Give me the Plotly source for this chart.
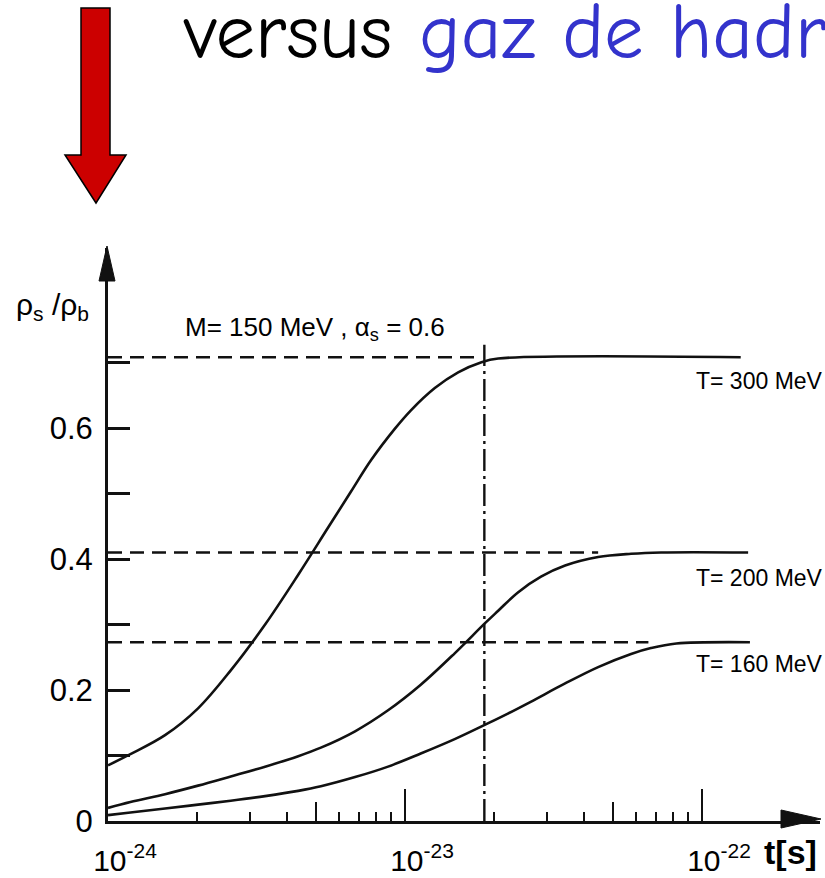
import plotly.graph_objects as go

# ---------------- data ----------------
t_300 = [1.0e-24, 1.19e-24, 1.556e-24, 2.01e-24, 2.59e-24, 3.38e-24, 4.37e-24, 5.51e-24,
         6.58e-24, 7.69e-24, 9.25e-24, 1.047e-23, 1.26e-23, 1.51e-23, 1.80e-23, 2.06e-23, 1.35e-22]
r_300 = [0.085, 0.102, 0.131, 0.172, 0.230, 0.300, 0.376, 0.448,
         0.503, 0.551, 0.599, 0.627, 0.661, 0.685, 0.700, 0.706, 0.708]

t_200 = [1.0e-24, 1.19e-24, 1.556e-24, 2.01e-24, 2.59e-24, 3.38e-24, 4.37e-24, 5.21e-24,
         6.79e-24, 8.77e-24, 1.13e-23, 1.47e-23, 1.86e-23, 2.06e-23, 2.40e-23, 2.87e-23,
         3.46e-23, 4.47e-23, 5.77e-23, 7.28e-23, 1.43e-22]
r_200 = [0.020, 0.029, 0.041, 0.054, 0.068, 0.083, 0.099, 0.112,
         0.137, 0.169, 0.208, 0.256, 0.302, 0.321, 0.349, 0.373,
         0.390, 0.403, 0.408, 0.410, 0.410]

t_160 = [1.0e-24, 1.19e-24, 1.556e-24, 2.01e-24, 2.59e-24, 3.38e-24, 4.37e-24, 5.21e-24,
         6.79e-24, 8.77e-24, 1.13e-23, 1.47e-23, 1.90e-23, 2.22e-23, 2.65e-23, 3.46e-23,
         4.47e-23, 5.77e-23, 6.73e-23, 8.2e-23, 1.45e-22]
r_160 = [0.009, 0.013, 0.019, 0.025, 0.031, 0.038, 0.046, 0.053,
         0.067, 0.083, 0.103, 0.125, 0.149, 0.164, 0.182, 0.210,
         0.235, 0.255, 0.264, 0.271, 0.273]

eq_values = [0.708, 0.410, 0.273]          # equilibrium ratios (dashed lines)
eq_ends = [1.80e-23, 4.47e-23, 6.6e-23]     # where each dashed line meets its curve
t_mark = 1.85e-23                           # vertical dashed marker
r_mark_top = 0.727

curve_labels = ["T= 300 MeV", "T= 200 MeV", "T= 160 MeV"]
y_tickvals = [0, 0.2, 0.4, 0.6]
y_ticktext = ["0", "0.2", "0.4", "0.6"]
y_minor = [0.1, 0.3, 0.5, 0.7]
x_tickvals = [1e-24, 1e-23, 1e-22]
x_ticktext = ["10<sup>-24</sup>", "10<sup>-23</sup>", "10<sup>-22</sup>"]
x_minor = [2e-24, 3e-24, 4e-24, 6e-24, 7e-24, 8e-24, 9e-24,
           2e-23, 3e-23, 4e-23, 6e-23, 7e-23, 8e-23, 9e-23]
x_mid = [5e-24, 5e-23]

# ---------------- layout geometry ----------------
W, H = 825, 878
PL, PR, PT, PB = 108, 820, 248, 821
PX_PER_DEC = 297.0
PX_PER_UNIT = 655.0


def px(x):
    return (x - PL) / (PR - PL)


def py(y):
    return (PB - y) / (PB - PT)


x_range = [-24, -24 + (PR - PL) / PX_PER_DEC]
y_range = [0, (PB - PT) / PX_PER_UNIT]

LINE = "#111111"
DASH = "14px,8px"
AXFONT = "Liberation Sans, Arial, sans-serif"

fig = go.Figure()

for t, r in [(t_300, r_300), (t_200, r_200), (t_160, r_160)]:
    fig.add_trace(go.Scatter(x=t, y=r, mode="lines", line=dict(color=LINE, width=2.6),
                             line_shape="spline", showlegend=False, hoverinfo="skip"))

for eq, te in zip(eq_values, eq_ends):
    fig.add_trace(go.Scatter(x=[t_300[0], te], y=[eq, eq], mode="lines",
                             line=dict(color=LINE, width=2.6, dash=DASH),
                             showlegend=False, hoverinfo="skip"))

fig.add_trace(go.Scatter(x=[t_mark, t_mark], y=[0, r_mark_top], mode="lines", xaxis="x2",
                         line=dict(color=LINE, width=2.4, dash="22px,5px,3px,5px"),
                         showlegend=False, hoverinfo="skip"))

fig.update_layout(
    width=W, height=H,
    margin=dict(l=PL, r=W - PR, t=PT, b=H - PB, pad=0, autoexpand=False),
    paper_bgcolor="white", plot_bgcolor="white",
    font=dict(family=AXFONT, color="black"),
    xaxis=dict(type="log", range=x_range, showgrid=False, zeroline=False, automargin=False,
               showline=True, linecolor=LINE, linewidth=3,
               ticks="inside", ticklen=32, tickwidth=2, tickcolor=LINE,
               tickmode="array", tickvals=x_tickvals, ticktext=x_ticktext,
               tickfont=dict(size=30, family=AXFONT),
               ticklabelshift=17, ticklabelstandoff=11,
               minor=dict(tickmode="array", tickvals=x_minor, ticks="inside",
                          ticklen=9, tickwidth=2, tickcolor=LINE, showgrid=False)),
    xaxis2=dict(type="log", range=x_range, overlaying="x", anchor="y", side="bottom",
                showgrid=False, zeroline=False, showline=False, automargin=False,
                ticks="inside", ticklen=19, tickwidth=2, tickcolor=LINE,
                tickmode="array", tickvals=x_mid, showticklabels=False),
    yaxis=dict(range=y_range, showgrid=False, zeroline=False, automargin=False,
               showline=True, linecolor=LINE, linewidth=3,
               ticks="inside", ticklen=22, tickwidth=3, tickcolor=LINE,
               tickmode="array", tickvals=y_tickvals, ticktext=y_ticktext,
               tickfont=dict(size=31, family=AXFONT), ticklabelstandoff=6,
               minor=dict(tickmode="array", tickvals=y_minor, ticks="inside",
                          ticklen=22, tickwidth=3, tickcolor=LINE, showgrid=False)),
)

# axis arrow heads
fig.add_shape(type="path", xref="paper", yref="paper",
              path=f"M {px(107)} {py(246)} L {px(115)} {py(281)} L {px(99)} {py(281)} Z",
              fillcolor=LINE, line=dict(color=LINE, width=1))
fig.add_shape(type="path", xref="paper", yref="paper",
              path=f"M {px(821)} {py(819)} L {px(781)} {py(810)} L {px(781)} {py(828)} Z",
              fillcolor=LINE, line=dict(color=LINE, width=1))

# red arrow
pts = [(81, 8), (110, 8), (110, 155), (126, 155), (96, 203), (65, 155), (81, 155)]
path = "M " + " L ".join(f"{px(a)} {py(b)}" for a, b in pts) + " Z"
fig.add_shape(type="path", xref="paper", yref="paper", path=path,
              fillcolor="#cc0000", line=dict(color="black", width=1.5))


def ann(text, x, y, size, xanchor="left", yanchor="middle", color="black", family=AXFONT):
    fig.add_annotation(text=text, xref="paper", yref="paper", x=px(x), y=py(y),
                       xanchor=xanchor, yanchor=yanchor, showarrow=False,
                       font=dict(size=size, color=color, family=family))


ann("versus <span style='color:#3333cc'>gaz de hadrons</span>", 181, 32, 79,
    family="Comic Sans MS, Comic Neue, Noto Sans, sans-serif")
ann("ρ<sub>s</sub> /ρ<sub>b</sub>", 14, 306, 30)
ann("M= 150 MeV , α<sub>s</sub> = 0.6", 183, 328, 26)
for lab, yc in zip(curve_labels, [381, 578, 664]):
    ann(lab, 694, yc, 23)
ann("<b>t[s]</b>", 762, 852, 34)

fig.write_html("out.html")
